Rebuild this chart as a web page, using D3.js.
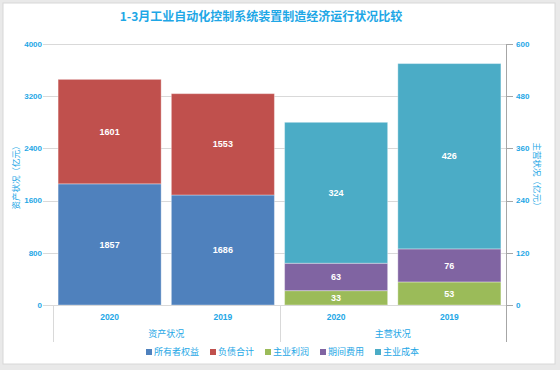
<!DOCTYPE html>
<html><head><meta charset="utf-8">
<script src="https://cdn.jsdelivr.net/npm/d3@7"></script>
<style>
html,body{margin:0;padding:0;background:#e9e9e9;}
svg{display:block;font-family:"Noto Sans CJK SC","Noto Sans",sans-serif;}
.num{font-family:"Liberation Sans","Noto Sans",sans-serif;}
</style></head>
<body>
<svg id="c" width="560" height="370"></svg>
<script>
const title = "1-3月工业自动化控制系统装置制造经济运行状况比较";
const categories = ["2020", "2019", "2020", "2019"];
const groups = ["资产状况", "主营状况"];
const ownerEquity = [1857, 1686];   // 所有者权益
const liabilities = [1601, 1553];   // 负债合计
const mainProfit = [33, 53];        // 主业利润
const periodExpense = [63, 76];     // 期间费用
const mainCost = [324, 426];        // 主业成本
const leftTicks = [0, 800, 1600, 2400, 3200, 4000];
const rightTicks = [0, 120, 240, 360, 480, 600];
const legendNames = ["所有者权益", "负债合计", "主业利润", "期间费用", "主业成本"];
const colors = ["#4f81bd", "#c0504d", "#9bbb59", "#8064a2", "#4bacc6"];

const txt = "#1ea7e6";
const svg = d3.select("#c");
svg.append("rect").attr("x", 3).attr("y", 3).attr("width", 552).attr("height", 361)
  .attr("fill", "#fff").attr("stroke", "#d8d8d8");

const L = 53, R = 506, T = 44, B = 305;
const x = d3.scaleBand().domain(d3.range(categories.length)).range([L, R])
  .paddingInner(0.09).paddingOuter(0.045);
const yL = d3.scaleLinear().domain([0, 4000]).range([B, T]);
const yR = d3.scaleLinear().domain([0, 600]).range([B, T]);

// gridlines
svg.append("g").selectAll("line").data(leftTicks).join("line")
  .attr("x1", L - 10).attr("x2", R).attr("y1", d => Math.round(yL(d)) + 0.5).attr("y2", d => Math.round(yL(d)) + 0.5)
  .attr("stroke", "#d9d9d9");

// left axis labels
svg.append("g").selectAll("text").data(leftTicks).join("text").attr("class", "num")
  .attr("x", 42).attr("y", d => yL(d)).attr("dy", "0.35em").attr("text-anchor", "end")
  .attr("fill", txt).attr("font-size", 8).attr("font-weight", "bold").text(d => d);

// right axis
const ra = svg.append("g").attr("transform", `translate(${R},0)`);
ra.append("line").attr("x1", 0.5).attr("x2", 0.5).attr("y1", T).attr("y2", 342)
  .attr("stroke", "#a6a6a6");
ra.selectAll("line.t").data(rightTicks).join("line").attr("class", "t")
  .attr("x1", 0).attr("x2", 7).attr("y1", d => Math.round(yR(d)) + 0.5).attr("y2", d => Math.round(yR(d)) + 0.5)
  .attr("stroke", "#a6a6a6");
ra.selectAll("text").data(rightTicks).join("text").attr("class", "num")
  .attr("x", 10).attr("y", d => yR(d)).attr("dy", "0.35em")
  .attr("fill", txt).attr("font-size", 8).attr("font-weight", "bold").text(d => d);

// axis titles
svg.append("text").attr("transform", `translate(16,${(T + B) / 2 + 1}) rotate(-90)`)
  .attr("text-anchor", "middle").attr("dy", "0.35em").attr("fill", txt).attr("font-size", 8.5)
  .text("资产状况（亿元）");
svg.append("text").attr("transform", `translate(537,${(T + B) / 2 + 2}) rotate(90)`)
  .attr("text-anchor", "middle").attr("dy", "0.35em").attr("fill", txt).attr("font-size", 8.5)
  .text("主营状况（亿元）");

// stacked data
const bars = [];
[0, 1].forEach(i => {
  const segs = [[ownerEquity[i], 0], [liabilities[i], 1]];
  let acc = 0;
  segs.forEach(([v, c]) => { bars.push({ idx: i, y0: acc, y1: acc + v, v, c, scale: yL }); acc += v; });
});
[0, 1].forEach(i => {
  const segs = [[mainProfit[i], 2], [periodExpense[i], 3], [mainCost[i], 4]];
  let acc = 0;
  segs.forEach(([v, c]) => { bars.push({ idx: i + 2, y0: acc, y1: acc + v, v, c, scale: yR }); acc += v; });
});

const bg = svg.append("g");
bg.selectAll("rect").data(bars).join("rect")
  .attr("x", d => x(d.idx)).attr("width", x.bandwidth())
  .attr("y", d => d.scale(d.y1)).attr("height", d => d.scale(d.y0) - d.scale(d.y1))
  .attr("fill", d => colors[d.c]).attr("stroke", "rgba(255,255,255,0.35)").attr("stroke-width", 1);
bg.selectAll("text").data(bars).join("text").attr("class", "num")
  .attr("x", d => x(d.idx) + x.bandwidth() / 2)
  .attr("y", d => (d.scale(d.y0) + d.scale(d.y1)) / 2).attr("dy", "0.35em")
  .attr("text-anchor", "middle").attr("fill", "#fff").attr("font-size", 9).attr("font-weight", "bold")
  .text(d => d.v);

// category axis
const ca = svg.append("g");
ca.append("line").attr("x1", L).attr("x2", R).attr("y1", B + 0.5).attr("y2", B + 0.5).attr("stroke", "#d9d9d9");
[L, (x(1) + x.bandwidth() + x(2)) / 2].forEach(xx => {
  ca.append("line").attr("x1", Math.round(xx) + 0.5).attr("x2", Math.round(xx) + 0.5)
    .attr("y1", B).attr("y2", 342).attr("stroke", "#d9d9d9");
});
ca.selectAll("text.cat").data(categories).join("text").attr("class", "cat num")
  .attr("x", (d, i) => x(i) + x.bandwidth() / 2).attr("y", 317).attr("dy", "0.35em")
  .attr("text-anchor", "middle").attr("fill", txt).attr("font-size", 8.5).attr("font-weight", "bold").text(d => d);
ca.selectAll("text.grp").data(groups).join("text").attr("class", "grp")
  .attr("x", (d, i) => (x(i * 2) + x(i * 2 + 1) + x.bandwidth()) / 2).attr("y", 334).attr("dy", "0.35em")
  .attr("text-anchor", "middle").attr("fill", txt).attr("font-size", 9).text(d => d);

// legend
const lx = [146, 210, 265, 320, 375];
const lg = svg.append("g").selectAll("g").data(legendNames).join("g")
  .attr("transform", (d, i) => `translate(${lx[i]},352)`);
lg.append("rect").attr("x", 0).attr("y", -3).attr("width", 6).attr("height", 6).attr("fill", (d, i) => colors[i]);
lg.append("text").attr("x", 8).attr("dy", "0.35em").attr("fill", txt).attr("font-size", 9).text(d => d);

// title
svg.append("text").attr("x", 261).attr("y", 17).attr("dy", "0.35em").attr("text-anchor", "middle")
  .attr("fill", txt).attr("font-size", 12).attr("font-weight", "bold").text(title);
</script>
</body></html>
